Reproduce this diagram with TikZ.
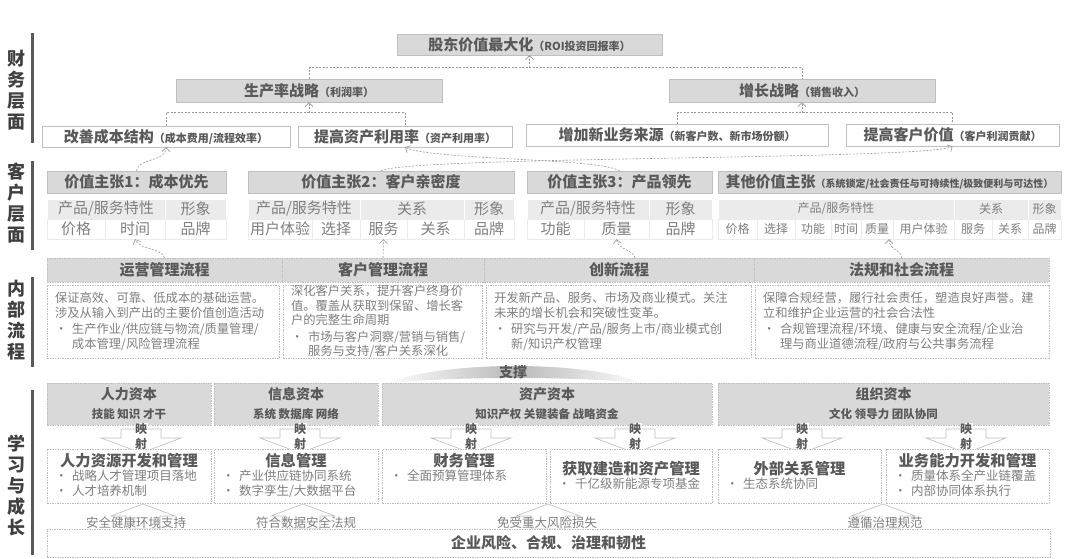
\documentclass[tikz,border=0pt]{standalone}
\usepackage{fontspec}
\setmainfont{Noto Sans CJK SC}
\usetikzlibrary{positioning,arrows.meta}
\definecolor{ink}{HTML}{595959}
\definecolor{deep}{HTML}{404040}
\definecolor{soft}{HTML}{7F7F7F}
\definecolor{edge}{HTML}{BFBFBF}
\definecolor{band}{HTML}{D9D9D9}
\definecolor{pale}{HTML}{EBEBEB}
\newcommand{\fsz}[1]{\fontsize{#1}{#1}\selectfont}
\newcommand{\bitem}{\makebox[17pt][l]{\textbullet}}
\newcommand{\cellrow}[4]{%
  \foreach \xa/\xb/\txt [count=\i] in {#4}
    \node[#3,minimum width={\xb-\xa}] (#2\i) at ({(\xa+\xb)/2},#1) {\txt};}
\newcommand{\mgmt}[6]{%
  \node[mgbox,minimum width=#3] (#1) at (#2,476) {};
  \node[mgtitle] (#1t) at ([yshift={-12-#4}]#1.north) {#5};
  \node[mgitems,anchor=north west] (#1p) at ([xshift=8,yshift={-21-#4}]#1.north west) {#6};}

\begin{document}
\begin{tikzpicture}[x=1pt,y=-1pt,
    sidelabel/.style={align=center,text=deep,font=\bfseries\fontsize{18}{21}\selectfont},
    sidebar/.style={draw=ink,line width=3pt},
    goal/.style={draw=edge,fill=band,inner sep=0,text=ink,font=\bfseries\fsz{15}},
    lever/.style={goal,fill=white},
    vphead/.style={goal,minimum height=22},
    topcell/.style={draw=white,fill=pale,inner sep=0,minimum height=20,text=soft,font=\fsz{15}},
    botcell/.style={topcell,draw=pale,fill=white},
    smalltop/.style={topcell,font=\fsz{12}},
    smallbot/.style={botcell,font=\fsz{12}},
    procbox/.style={draw=edge,dash pattern=on 1.5pt off 1pt,fill=white,inner sep=0},
    stagehead/.style={procbox,fill=band,minimum height=24,text=ink,font=\bfseries\fsz{15}},
    stagebody/.style={procbox,minimum height=73,inner xsep=8,align=left,text=soft,font=\fontsize{12.3}{14.5}\selectfont},
    capbox/.style={procbox,fill=band,minimum height=42,align=center,text=ink,font=\bfseries\fontsize{14}{19}\selectfont},
    mgbox/.style={procbox,minimum height=54},
    mgtitle/.style={inner sep=0,text=ink,font=\bfseries\fsz{15.3}},
    mgitems/.style={inner sep=0,align=left,text=soft,font=\fontsize{12.5}{15}\selectfont},
    maptext/.style={inner sep=0.5,fill=white,text=ink,font=\bfseries\fsz{12}},
    blockarrow/.style={draw=edge,fill=white,line width=0.6pt},
    risktext/.style={inner sep=0,text=soft,font=\fsz{12.5}},
    link/.style={draw=gray!80,dash pattern=on 2pt off 1.5pt,line width=0.6pt},
    flow/.style={link,-{Straight Barb[length=4pt,width=8pt]}}]
    \useasboundingbox (0,0) rectangle (1080,559);

    \node[sidelabel] (finl) at (16,90) {财\\务\\层\\面};
    \node[sidelabel] (cusl) at (16,203) {客\\户\\层\\面};
    \node[sidelabel] (intl) at (16,320) {内\\部\\流\\程};
    \node[sidelabel] (lgl) at (16,485) {学\\习\\与\\成\\长};
    \draw[sidebar] (32,33) -- (32,143);
    \draw[sidebar] (32,161) -- (32,250);
    \draw[sidebar] (32,277) -- (32,367);
    \draw[sidebar] (32,390) -- (32,555);

    \node[goal,minimum width=265,minimum height=21] (roi) at (529.5,44.5) {股东价值最大化{\fsz{11}（ROI投资回报率）}};
    \node[goal,minimum width=266,minimum height=23] (prod) at (309,90.5) {生产率战略{\fsz{11}（利润率）}};
    \node[goal,minimum width=266,minimum height=23] (grow) at (802,90.5) {增长战略{\fsz{11}（销售收入）}};
    \node[lever,minimum width=248,minimum height=21] (cost) at (166,136.5) {改善成本结构{\fsz{11}（成本费用/流程效率）}};
    \node[lever,minimum width=214,minimum height=21] (asset) at (405,136.5) {提高资产利用率{\fsz{11}（资产利用率）}};
    \node[lever,minimum width=302,minimum height=22] (newbiz) at (677,135) {增加新业务来源{\fsz{11}（新客户数、新市场份额）}};
    \node[lever,minimum width=213,minimum height=22] (custv) at (952.5,135) {提高客户价值{\fsz{11}（客户利润贡献）}};

    \draw[link] (prod.north) -- ++(0,-11) coordinate (pj) -| (grow.north);
    \draw[flow] (pj -| roi.south) -- (roi.south);
    \draw[link] (cost.north) -- ++(0,-13) coordinate (cj) -| (asset.north);
    \draw[flow] (cj -| prod.south) -- (prod.south);
    \draw[link] (newbiz.north) -- ++(0,-11) coordinate (gj) -| (custv.north);
    \draw[flow] (gj -| grow.south) -- (grow.south);

    \node[vphead,minimum width=179] (vp1) at (136.5,182) {价值主张1：成本优先};
    \node[vphead,minimum width=266] (vp2) at (381,182) {价值主张2：客户亲密度};
    \node[vphead,minimum width=185] (vp3) at (619.5,182) {价值主张3：产品领先};
    \node[vphead,minimum width=343] (vp4) at (889.5,182) {其他价值主张{\fsz{10}（系统锁定/社会责任与可持续性/极致便利与可达性）}};
    \cellrow{209}{vp1a}{topcell}{47/165/{产品/服务特性},165/226/形象}
    \cellrow{229}{vp1b}{botcell}{47/105/价格,105/165/时间,165/226/品牌}
    \cellrow{209}{vp2a}{topcell}{248/360/{产品/服务特性},360/464/关系,464/514/形象}
    \cellrow{229}{vp2b}{botcell}{248/312/用户体验,312/360/选择,360/407/服务,407/464/关系,464/514/品牌}
    \cellrow{209}{vp3a}{topcell}{527/649/{产品/服务特性},649/712/形象}
    \cellrow{229}{vp3b}{botcell}{527/584/功能,584/649/质量,649/712/品牌}
    \cellrow{209}{vp4a}{smalltop}{718/954/{产品/服务特性},954/1028/关系,1028/1061/形象}
    \cellrow{229}{vp4b}{smallbot}{718/757/价格,757/795/选择,795/831/功能,831/861/时间,861/893/质量,893/954/用户体验,954/992/服务,992/1028/关系,1028/1061/品牌}

    \draw[flow] (vp1.north) .. controls (138,158) and (166,162) .. (cost.south);
    \draw[flow] (vp3.north) .. controls (600,158) and (430,160) .. (asset.south);
    \draw[flow] (vp2.north) .. controls (410,156) and (930,160) .. (custv.south);

    \node[stagehead,minimum width=235] (opsh) at (164.5,270) {运营管理流程};
    \node[stagehead,minimum width=202] (cush) at (383,270) {客户管理流程};
    \node[stagehead,minimum width=270] (innh) at (619,270) {创新流程};
    \node[stagehead,minimum width=295] (lawh) at (901.5,270) {法规和社会流程};
    \node[stagebody,text width=216] (opsb) at (163,321.5) {保证高效、可靠、低成本的基础运营。\\涉及从输入到产出的主要价值创造活动\\[2pt]\bitem 生产作业/供应链与物流/质量管理/\\\hspace*{17pt}成本管理/风险管理流程};
    \node[stagebody,text width=183] (cusb) at (382.5,321.5) {深化客户关系，提升客户终身价\\值。覆盖从获取到保留、增长客\\户的完整生命周期\\[2pt]\bitem 市场与客户洞察/营销与销售/\\\hspace*{17pt}服务与支持/客户关系深化};
    \node[stagebody,text width=249] (innb) at (618.5,321.5) {开发新产品、服务、市场及商业模式。关注\\未来的增长机会和突破性变革。\\[2pt]\bitem 研究与开发/产品/服务上市/商业模式创\\\hspace*{17pt}新/知识产权管理};
    \node[stagebody,text width=278] (lawb) at (902,321.5) {保障合规经营，履行社会责任，塑造良好声誉。建\\立和维护企业运营的社会合法性\\[2pt]\bitem 合规管理流程/环境、健康与安全流程/企业治\\\hspace*{17pt}理与商业道德流程/政府与公共事务流程};

    \draw[flow] (opsh.north) .. controls (162,248) and (140,250) .. (vp1b2.south);
    \draw[flow] (cush.north) -- (vp2b3.south);
    \draw[flow] ([xshift=16]innh.north) .. controls (634,250) and (618,250) .. (vp3b2.south);
    \draw[flow] (lawh.north) .. controls (902,250) and (889,250) .. ([xshift=12]vp4b5.south);

    \shade[left color=white,right color=white,middle color=gray!55] (385,384) .. controls (440,360) and (590,360) .. (645,384) .. controls (590,376) and (440,376) .. cycle;
    \node[text=ink,font=\bfseries\fsz{14}] (supp) at (513,372) {支撑};

    \node[capbox,minimum width=164] (hc) at (129,404) {人力资本\\{\fsz{11.5}技能 知识 才干}};
    \node[capbox,minimum width=164] (ic) at (296,404) {信息资本\\{\fsz{11.5}系统 数据库 网络}};
    \node[capbox,minimum width=330] (ac) at (547,404) {资产资本\\{\fsz{11.5}知识产权 关键装备 战略资金}};
    \node[capbox,minimum width=331] (oc) at (883.5,404) {组织资本\\{\fsz{11.5}文化 领导力 团队协同}};

    \foreach \x in {141,300,471,635,802,966} {
        \draw[blockarrow] (\x-20,429) -- (\x+20,429) -- (\x+20,438) -- (\x+40,438) -- (\x,453) -- (\x-40,438) -- (\x-20,438) -- cycle;
        \node[maptext] (ying\x) at (\x,429) {映};
        \node[maptext,fill=none] (she\x) at (\x,444) {射};
    }

    \mgmt{hrm}{129}{164}{0}{人力资源开发和管理}{\bitem 战略人才管理项目落地\\\bitem 人才培养机制}
    \mgmt{im}{296}{164}{0}{信息管理}{\bitem 产业供应链协同系统\\\bitem 数字孪生/大数据平台}
    \mgmt{fm}{464}{164}{0}{财务管理}{\bitem 全面预算管理体系}
    \mgmt{am}{631}{162}{8}{获取建造和资产管理}{\bitem 千亿级新能源专项基金}
    \mgmt{erm}{799.5}{163}{8}{外部关系管理}{\bitem 生态系统协同}
    \mgmt{bcm}{967.5}{163}{0}{业务能力开发和管理}{\bitem 质量体系全产业链覆盖\\\bitem 内部协同体系执行}

    \foreach \x/\lx/\txt in {143/136/安全健康环境支持,303/306/符合数据安全法规,548/547/免受重大风险损失,883/885/遵循治理规范} {
        \draw[blockarrow] (\x,504) -- (\x+32,516) -- (\x+17,516) -- (\x+17,529) -- (\x-17,529) -- (\x-17,516) -- (\x-32,516) -- cycle;
        \node[risktext] (risk\x) at (\lx,523) {\txt};
    }
    \node[procbox,minimum width=1003,minimum height=28,text=ink,font=\bfseries\fsz{15}] (base) at (548.5,543) {企业风险、合规、治理和韧性};
\end{tikzpicture}
\end{document}
